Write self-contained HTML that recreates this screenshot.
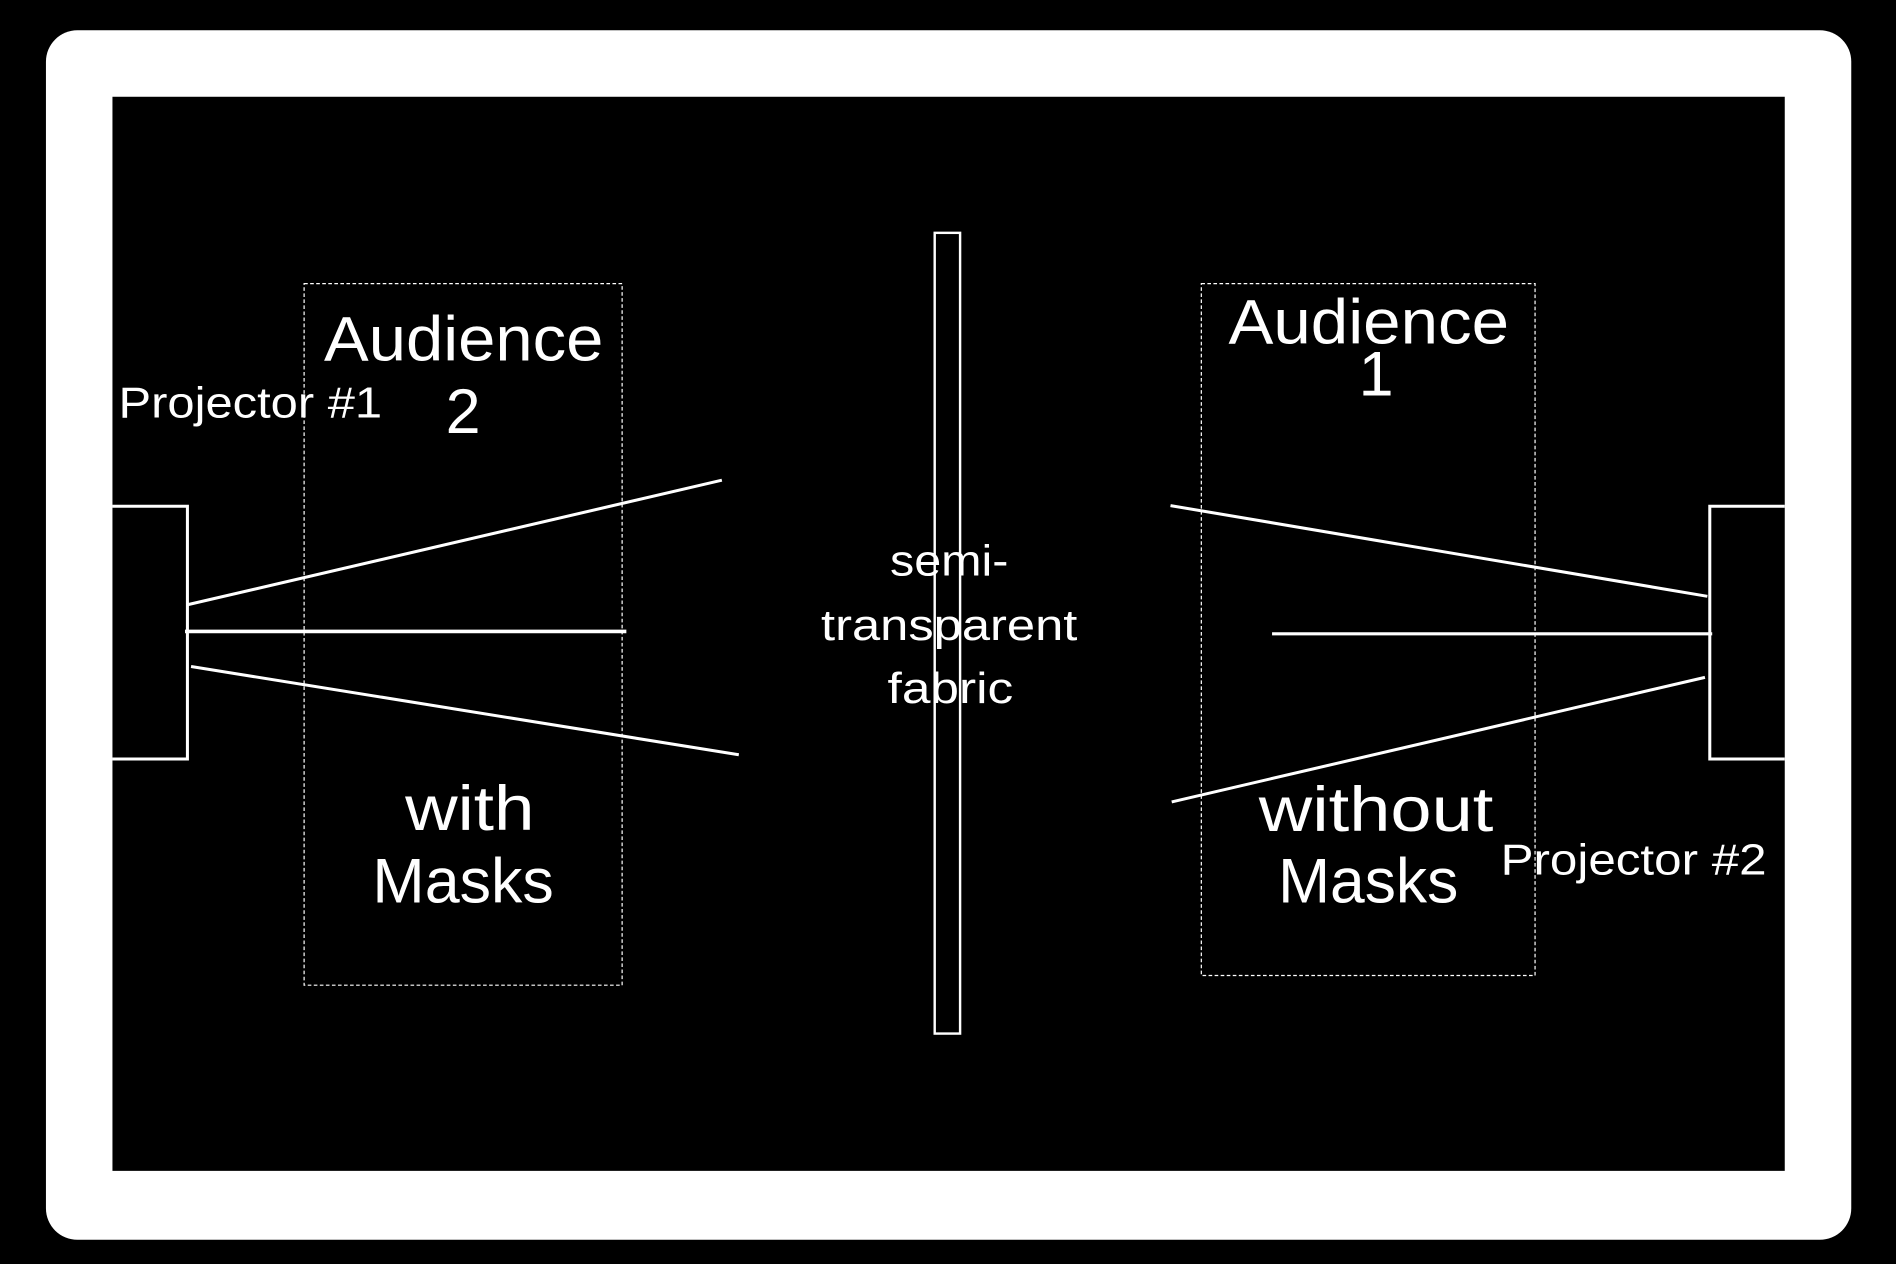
<!DOCTYPE html>
<html><head><meta charset="utf-8"><style>
html,body{margin:0;padding:0;background:#000;width:1896px;height:1264px;overflow:hidden}
svg{display:block}
text{font-family:"Liberation Sans",sans-serif;fill:#fff}
</style></head><body>
<svg width="1896" height="1264" viewBox="0 0 1568 1045" preserveAspectRatio="none">
<rect x="0" y="0" width="1568" height="1045" fill="#000"/>
<rect x="38" y="25" width="1493" height="1000" rx="26" fill="#fff"/>
<rect x="93" y="80" width="1383" height="888" fill="#000"/>
<g fill="none" stroke="#fff">
<rect x="251.5" y="234.5" width="263" height="580" stroke-width="1" stroke-dasharray="3,2"/>
<rect x="993.5" y="234.5" width="276" height="572" stroke-width="1" stroke-dasharray="3,2"/>
<polyline points="93,418.5 155,418.5 155,627.5 93,627.5" stroke-width="2.5"/>
<polyline points="1476,418.5 1414,418.5 1414,627.5 1476,627.5" stroke-width="2.5"/>
<rect x="773" y="192.5" width="21" height="662" stroke-width="2"/>
<line x1="155" y1="500" x2="597" y2="397" stroke-width="2.5"/>
<line x1="153" y1="522" x2="518" y2="522" stroke-width="3"/>
<line x1="158" y1="551" x2="611" y2="624" stroke-width="2.5"/>
<line x1="968" y1="418" x2="1412" y2="493" stroke-width="2.5"/>
<line x1="1052" y1="524" x2="1416" y2="524" stroke-width="2.5"/>
<line x1="969" y1="663" x2="1410" y2="560" stroke-width="2.5"/>
</g>
<text x="268" y="298" font-size="52" textLength="231" lengthAdjust="spacingAndGlyphs">Audience</text>
<text x="383" y="358" font-size="52" text-anchor="middle">2</text>
<text x="98" y="345" font-size="36" textLength="218" lengthAdjust="spacingAndGlyphs">Projector #1</text>
<text x="335" y="686" font-size="52" textLength="107" lengthAdjust="spacingAndGlyphs">with</text>
<text x="308" y="746" font-size="52" textLength="150" lengthAdjust="spacingAndGlyphs">Masks</text>
<text x="1016" y="284" font-size="52" textLength="232" lengthAdjust="spacingAndGlyphs">Audience</text>
<text x="1138" y="327" font-size="52" text-anchor="middle">1</text>
<text x="1041" y="687" font-size="52" textLength="194" lengthAdjust="spacingAndGlyphs">without</text>
<text x="1057" y="746" font-size="52" textLength="149" lengthAdjust="spacingAndGlyphs">Masks</text>
<text x="1241" y="723" font-size="36" textLength="220" lengthAdjust="spacingAndGlyphs">Projector #2</text>
<text x="736" y="476" font-size="36" textLength="98" lengthAdjust="spacingAndGlyphs">semi-</text>
<text x="679" y="529" font-size="36" textLength="212" lengthAdjust="spacingAndGlyphs">transparent</text>
<text x="734" y="581" font-size="36" textLength="104" lengthAdjust="spacingAndGlyphs">fabric</text>
</svg>
</body></html>
